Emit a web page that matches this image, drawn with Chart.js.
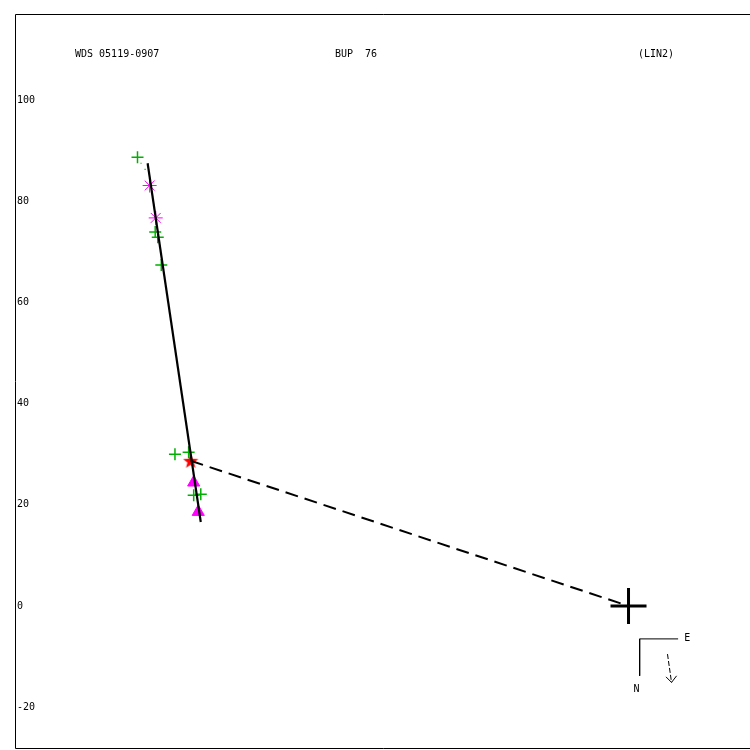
<!DOCTYPE html>
<html>
<head>
<meta charset="utf-8">
<script src="https://cdn.jsdelivr.net/npm/chart.js@4.4.0/dist/chart.umd.min.js"></script>
<style>
html, body { margin:0; padding:0; background:#fff; }
canvas { display:block; }
</style>
</head>
<body>
<canvas id="orbit" width="750" height="750"></canvas>
<script>
// values (x = relative E offset, y = relative N offset)
const yTicks = [-20, 0, 20, 40, 60, 80, 100];

const fitX = [-95.0, -84.5];
const fitY = [87.5, 16.6];

const plusX = [-97.0, -93.5, -93.0, -92.3, -89.6, -86.9, -85.9, -84.5];
const plusY = [88.7, 73.9, 72.9, 67.4, 30.0, 30.4, 21.9, 22.1];

const dotX = [-96.3, -95.5];
const dotY = [87.5, 86.3];

const asterX = [-94.6, -93.4];
const asterY = [83.1, 76.7];

const triX = [-85.9, -85.0];
const triY = [24.4, 18.6];

const starX = [-86.5];
const starY = [28.7];

const originX = [0];
const originY = [0];

const titles = ["WDS 05119-0907", "BUP  76", "(LIN2)"];

function pts(xs, ys) {
  return xs.map((v, i) => ({ x: v, y: ys[i] }));
}

// filled red five point star as image point style
function starImage(size, color) {
  const c = document.createElement("canvas");
  c.width = size; c.height = size;
  const g = c.getContext("2d");
  const r = size / 2, ri = r * 0.42;
  g.beginPath();
  for (let i = 0; i < 10; i++) {
    const rad = i % 2 ? ri : r;
    const a = -Math.PI / 2 + i * Math.PI / 5;
    const px = r + rad * Math.cos(a), py = r + 0.6 + rad * Math.sin(a);
    i ? g.lineTo(px, py) : g.moveTo(px, py);
  }
  g.closePath();
  g.fillStyle = color;
  g.fill();
  return c;
}

const FONT = "10px 'DejaVu Sans Mono'";

/* frame, y labels, titles, compass labels */
const frame = {
  id: "frame",
  beforeDraw(chart) {
    const ctx = chart.ctx;
    ctx.save();
    ctx.fillStyle = "#fff";
    ctx.fillRect(0, 0, chart.width, chart.height);
    ctx.restore();
  },
  afterDraw(chart) {
    const { ctx, chartArea: a, scales: { x, y } } = chart;
    ctx.save();
    ctx.strokeStyle = "#000";
    ctx.lineWidth = 1;
    ctx.beginPath();
    ctx.moveTo(chart.width + 2, a.top + 0.5);
    ctx.lineTo(a.left + 0.5, a.top + 0.5);
    ctx.lineTo(a.left + 0.5, a.bottom - 0.5);
    ctx.lineTo(chart.width + 2, a.bottom - 0.5);
    ctx.stroke();

    ctx.fillStyle = "#000";
    ctx.font = FONT;
    ctx.textBaseline = "middle";
    ctx.textAlign = "left";
    yTicks.forEach(v => ctx.fillText(String(v), a.left + 2, y.getPixelForValue(v)));

    ctx.fillText(titles[0], 75, 54);
    ctx.fillText(titles[1], 335, 54);
    ctx.fillText(titles[2], 638, 54);

    ctx.textAlign = "center";
    ctx.fillText("E", x.getPixelForValue(11.6), y.getPixelForValue(-6.4));
    ctx.fillText("N", x.getPixelForValue(1.6), y.getPixelForValue(-16.4));
    ctx.restore();
  }
};

const chart = new Chart(document.getElementById("orbit"), {
  type: "scatter",
  data: {
    datasets: [
      {
        data: pts(fitX, fitY),
        showLine: true, borderColor: "#000", borderWidth: 2.2,
        pointRadius: 0, order: 0
      },
      {
        data: [pts(starX, starY)[0], pts(originX, originY)[0]],
        showLine: true, borderColor: "#000", borderWidth: 2,
        borderDash: [13, 7], pointRadius: 0, order: 1
      },
      {
        data: pts(originX, originY),
        pointStyle: "cross", pointRadius: 18, borderWidth: 3,
        borderColor: "#000", order: 1
      },
      {
        data: pts(starX, starY),
        pointStyle: starImage(16, "#ff0000"), order: 2
      },
      {
        data: pts(triX, triY),
        pointStyle: "triangle", pointRadius: 7, borderWidth: 1,
        backgroundColor: "#ff00ff", borderColor: "#ff00ff", order: 3
      },
      {
        data: pts(asterX, asterY),
        pointStyle: "star", pointRadius: 7, borderWidth: 1,
        borderColor: "#ff00ff", order: 3
      },
      {
        data: pts(plusX, plusY),
        pointStyle: "cross", pointRadius: 6, borderWidth: 1.5,
        borderColor: "#00b000", order: 4
      },
      {
        data: pts(dotX, dotY),
        pointStyle: "rect", pointRadius: 0.8, borderWidth: 0,
        backgroundColor: "#00b000", order: 4
      },
      // compass
      {
        data: [{ x: 9.8, y: -6.5 }, { x: 2.2, y: -6.5 }, { x: 2.2, y: -13.8 }],
        showLine: true, borderColor: "#000", borderWidth: 1,
        pointRadius: 0, order: 5
      },
      {
        data: [{ x: 7.7, y: -9.5 }, { x: 8.5, y: -15.1 }],
        showLine: true, borderColor: "#000", borderWidth: 1,
        borderDash: [5, 2], pointRadius: 0, order: 5
      },
      {
        data: [{ x: 7.4, y: -14.0 }, { x: 8.5, y: -15.1 }, { x: 9.5, y: -13.8 }],
        showLine: true, borderColor: "#000", borderWidth: 1,
        pointRadius: 0, order: 5
      }
    ]
  },
  options: {
    responsive: false,
    animation: false,
    layout: { autoPadding: false, padding: { left: 15, right: 0, top: 14, bottom: 1 } },
    plugins: {
      legend: { display: false },
      tooltip: { enabled: false }
    },
    scales: {
      x: { display: false, min: -121.2, max: 24.0 },
      y: { display: false, min: -28.26, max: 117.0 }
    }
  },
  plugins: [frame]
});
</script>
</body>
</html>
